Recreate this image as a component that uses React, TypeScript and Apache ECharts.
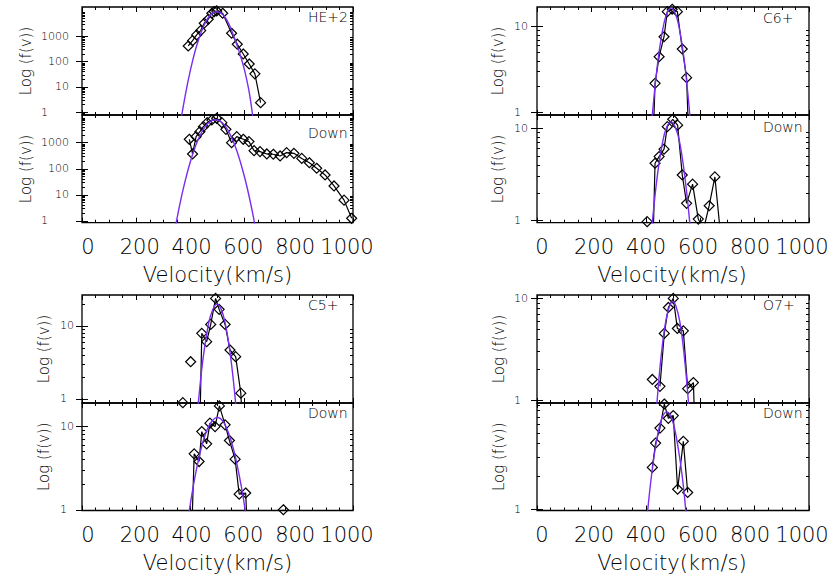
import React, { useEffect, useRef } from "react";
import * as echarts from "echarts";

// ---- tick labels ----
const X_TICKS = [0, 200, 400, 600, 800, 1000];
const Y_MAJOR_HE = [1, 10, 100, 1000];
const Y_MAJOR_ION = [1, 10];
const Y_MINOR = [2, 3, 4, 5, 6, 7, 8, 9, 20, 30, 40, 50, 60, 70, 80, 90, 200, 300, 400, 500, 600, 700, 800, 900, 2000, 3000, 4000, 5000, 6000, 7000, 8000, 9000];
const Y_MINOR_BELOW1 = [0.8, 0.9];

// ---- HE+2 (upstream) ----
const HE_UP_V = [392, 408, 423, 438, 451, 466, 479, 488, 497, 519, 552, 573, 595, 617, 638, 659];
const HE_UP_F = [417, 676, 1140, 1690, 3300, 4750, 8200, 9500, 10100, 8200, 1330, 490, 201, 81, 33, 2.4];
const HE_UP_FIT_V = [360, 380, 400, 420, 440, 460, 480, 497, 520, 540, 560, 580, 600, 620, 640];
const HE_UP_FIT_F = [0.23, 4.1, 46, 330, 1500, 4400, 8100, 9500, 7100, 3400, 1000, 250, 45, 4, 0.09];

// ---- HE+2 (down) ----
const HE_DN_V = [396, 408, 421, 435, 448, 462, 479, 497, 516, 531, 552, 571, 595, 616, 635, 657, 682, 706, 731, 755, 782, 811, 839, 866, 897, 930, 967, 995];
const HE_DN_F = [1350, 370, 1700, 2650, 4100, 5850, 7400, 8600, 5850, 3250, 1000, 1700, 1350, 1100, 495, 455, 370, 360, 310, 415, 390, 250, 170, 105, 58, 22, 6.3, 1.27];
const HE_DN_FIT_V = [340, 360, 380, 400, 420, 440, 460, 480, 492, 510, 530, 550, 570, 590, 610, 630, 650];
const HE_DN_FIT_F = [0.32, 3.9, 32, 190, 790, 2340, 4900, 7100, 7600, 6600, 4100, 1740, 540, 115, 18, 1.9, 0.14];

// ---- C6+ ----
const C6_UP_V = [420, 434, 449, 467, 479, 497, 516, 534, 550, 565];
const C6_UP_F = [0.1, 2.18, 4.46, 7.64, 15.0, 16.0, 15.0, 5.49, 2.54, 0.1];
const C6_UP_FIT_V = [415, 430, 445, 460, 475, 493, 510, 525, 540, 555, 570];
const C6_UP_FIT_F = [0.42, 1.5, 4.1, 8.5, 13.6, 16.6, 13.9, 8.9, 4.4, 1.6, 0.46];

const C6_DN_V = [405, 420, 434, 449, 467, 479, 499, 517, 534, 550, 572, 593, 612, 633, 654, 675];
const C6_DN_F = [0.975, 0.1, 4.18, 4.93, 5.93, 10.4, 12.5, 10.8, 3.12, 1.54, 2.48, 1.04, 0.8, 1.45, 2.97, 0.7];
const C6_DN_FIT_V = [415, 430, 445, 460, 475, 493, 510, 525, 540, 555, 570];
const C6_DN_FIT_F = [0.48, 1.45, 3.5, 6.6, 10, 11.7, 10, 6.9, 3.6, 1.5, 0.51];

// ---- C5+ ----
const C5_UP_V = [372, 386, 401, 412, 428, 442, 460, 475, 493, 506, 528, 546, 567, 586, 605];
const C5_UP_F = [0.89, null, 3.24, null, 0.02, 7.94, 6.1, 10.5, 23.9, 16.9, 10.5, 4.69, 3.8, 1.2, 0.05];
const C5_UP_FIT_V = [415, 430, 445, 460, 475, 498, 515, 530, 545, 560, 575];
const C5_UP_FIT_F = [0.22, 0.95, 3.2, 7.7, 14, 20, 16.5, 10.2, 4.7, 1.6, 0.41];

const C5_DN_V = [395, 414, 432, 442, 460, 472, 491, 507, 528, 544, 565, 580, 604, 625, 743];
const C5_DN_F = [0.05, 4.7, 3.8, 8.7, 6.2, 11, 10, 17.7, 10.5, 6.8, 4.06, 1.54, 1.59, 0.05, 1.0];
const C5_DN_FIT_V = [390, 405, 420, 440, 460, 480, 500, 520, 540, 560, 580, 595, 610];
const C5_DN_FIT_F = [0.72, 1.5, 2.8, 5.5, 8.9, 11.7, 12.9, 11.6, 8.5, 5.2, 2.6, 1.4, 0.65];

// ---- O7+ ----
const O7_UP_V = [424, 438, 452, 468, 483, 501, 516, 538, 554, 575, 592];
const O7_UP_F = [1.6, null, 1.37, 4.53, 8.15, 10, 5.07, 4.8, 1.3, 1.49, 0.05];
const O7_UP_FIT_V = [430, 445, 460, 475, 490, 499, 510, 525, 540, 555, 570];
const O7_UP_FIT_F = [0.36, 1.28, 3.3, 6.3, 8.8, 9.3, 8.5, 5.9, 2.95, 1.1, 0.3];

const O7_DN_V = [424, 436, 452, 468, 483, 501, 517, 538, 554];
const O7_DN_F = [2.41, 4.03, 5.53, 9.2, 6.8, 7.2, 1.52, 4.18, 1.42];
const O7_DN_FIT_V = [400, 415, 430, 445, 460, 477, 490, 505, 520, 535, 550];
const O7_DN_FIT_F = [0.63, 1.52, 3.0, 5.0, 6.9, 7.8, 7.3, 5.6, 3.5, 1.9, 0.81];

// ---- y ranges ----
const Y_MIN = [0.78, 0.86, 0.93, 0.95, 0.88, 0.98, 0.94, 0.97];
const Y_MAX = [14500, 11500, 17.0, 13.9, 26.6, 19.2, 10.8, 9.4];

const SPECIES = ["HE+2", "C6+", "C5+", "O7+"];

const SUBS = [
  { v: HE_UP_V, f: HE_UP_F, fv: HE_UP_FIT_V, ff: HE_UP_FIT_F },
  { v: HE_DN_V, f: HE_DN_F, fv: HE_DN_FIT_V, ff: HE_DN_FIT_F },
  { v: C6_UP_V, f: C6_UP_F, fv: C6_UP_FIT_V, ff: C6_UP_FIT_F },
  { v: C6_DN_V, f: C6_DN_F, fv: C6_DN_FIT_V, ff: C6_DN_FIT_F },
  { v: C5_UP_V, f: C5_UP_F, fv: C5_UP_FIT_V, ff: C5_UP_FIT_F },
  { v: C5_DN_V, f: C5_DN_F, fv: C5_DN_FIT_V, ff: C5_DN_FIT_F },
  { v: O7_UP_V, f: O7_UP_F, fv: O7_UP_FIT_V, ff: O7_UP_FIT_F },
  { v: O7_DN_V, f: O7_DN_F, fv: O7_DN_FIT_V, ff: O7_DN_FIT_F },
];

// layout (pixels)
const COLS = [
  { left: 82, width: 271, labLeft: 88, labWidth: 259, textX: 308 },
  { left: 537, width: 272, labLeft: 542, labWidth: 260, textX: 763 },
];
const ROWS = [
  { top: 7, h1: 108, h2: 107.7 },
  { top: 295, h1: 108, h2: 107.5 },
];
const TXT_Y = [
  [17, 133],
  [18, 127],
  [305, 413],
  [305, 413],
];
const NAME_GAP = [49, 32, 31, 31];
const LABEL_MARGIN = [13, 9, 8, 9];
const PAD1 = [3, 1, 1, 1];

const FONT = "DejaVu Sans";
const FW = 200;
const TXT = "#000";
const FIT_COLOR = "#7a2cf0";

function zip(a: number[], b: (number | null)[]) {
  return a.map((x, i) => [x, b[i] == null ? "-" : b[i]]);
}

function buildOption() {
  const grid: any[] = [];
  const xAxis: any[] = [];
  const yAxis: any[] = [];
  const series: any[] = [];
  const graphic: any[] = [];

  for (let p = 0; p < 4; p++) {
    const col = COLS[p % 2];
    const row = ROWS[Math.floor(p / 2)];
    const major = p === 0 ? Y_MAJOR_HE : Y_MAJOR_ION;
    for (let s = 0; s < 2; s++) {
      const idx = p * 2 + s;
      const top = s === 0 ? row.top : row.top + row.h1;
      const height = s === 0 ? row.h1 : row.h2;
      const ymin = Y_MIN[idx];
      const ymax = Y_MAX[idx];
      grid.push({
        left: col.left,
        top,
        width: col.width,
        height,
        show: true,
        borderColor: "#000",
        borderWidth: 1.3,
        backgroundColor: "transparent",
        containLabel: false,
        outerBoundsMode: "none",
      });
      const gi = grid.length - 1;
      const xa = xAxis.length;
      for (const pos of ["bottom", "top"]) {
        xAxis.push({
          gridIndex: gi,
          type: "value",
          position: pos,
          min: 0,
          max: 1000,
          interval: 200,
          axisLine: { show: false },
          axisTick: { show: true, inside: true, length: 5, lineStyle: { color: "#000", width: 1 } },
          minorTick: { show: true, splitNumber: 4, length: 3, lineStyle: { color: "#000", width: 1 } },
          axisLabel: { show: false },
          splitLine: { show: false },
        });
      }
      const ya = yAxis.length;
      const pad = "\u2007".repeat(PAD1[p]);
      const majorIn = major.filter((m) => m >= ymin && m <= ymax);
      const minorIn = Y_MINOR.concat(Y_MINOR_BELOW1).filter((m) => m > ymin && m < ymax);
      for (const pos of ["left", "right"]) {
        const isLeft = pos === "left";
        yAxis.push({
          gridIndex: gi,
          type: "log",
          logBase: 10,
          position: pos,
          min: ymin,
          max: ymax,
          axisLine: { show: false },
          axisTick: {
            show: true,
            inside: true,
            length: 6,
            customValues: majorIn,
            lineStyle: { color: "#000", width: 1 },
          },
          splitLine: { show: false },
          axisLabel: {
            show: isLeft,
            customValues: majorIn,
            margin: LABEL_MARGIN[p],
            fontFamily: FONT,
            fontWeight: FW,
            fontSize: 11,
            color: TXT,
            formatter: (val: number) => {
              const n = Math.round(val);
              return n === 1 ? "1" + pad : String(n);
            },
          },
          name: isLeft ? "Log (f(v))" : "",
          nameLocation: "middle",
          nameGap: NAME_GAP[p],
          nameTextStyle: { fontFamily: FONT, fontWeight: FW, fontSize: 15, color: TXT },
        });
      }
      // minor tick axes (left & right)
      for (const pos of ["left", "right"]) {
        yAxis.push({
          gridIndex: gi,
          type: "log",
          logBase: 10,
          position: pos,
          min: ymin,
          max: ymax,
          axisLine: { show: false },
          axisTick: {
            show: true,
            inside: true,
            length: 3,
            customValues: minorIn,
            lineStyle: { color: "#000", width: 1 },
          },
          axisLabel: { show: false },
          splitLine: { show: false },
        });
      }
      const d = SUBS[idx];
      series.push({
        type: "line",
        xAxisIndex: xa,
        yAxisIndex: ya,
        data: zip(d.v, d.f),
        symbol: "diamond",
        symbolSize: 10,
        connectNulls: false,
        clip: true,
        lineStyle: { color: "#000", width: 1.2 },
        itemStyle: { color: "rgba(255,255,255,0)", borderColor: "#000", borderWidth: 1.2 },
        z: 2,
      });
      series.push({
        type: "line",
        xAxisIndex: xa,
        yAxisIndex: ya,
        data: zip(d.fv, d.ff),
        symbol: "none",
        smooth: 0.4,
        clip: true,
        lineStyle: { color: FIT_COLOR, width: 1.4 },
        z: 3,
      });
      graphic.push({
        type: "text",
        x: col.textX,
        y: TXT_Y[p][s],
        style: {
          text: s === 0 ? SPECIES[p] : "Down",
          fill: TXT,
          font: `${FW} 14px "${FONT}"`,
          verticalAlign: "middle",
          align: "left",
        },
        z: 10,
      });
    }
  }

  // velocity label axes under each panel
  for (let p = 0; p < 4; p++) {
    const col = COLS[p % 2];
    const row = ROWS[Math.floor(p / 2)];
    const bottom = row.top + row.h1 + row.h2;
    grid.push({
      left: col.labLeft,
      width: col.labWidth,
      top: bottom - 10,
      height: 10,
      show: false,
      containLabel: false,
      outerBoundsMode: "none",
    });
    const gi = grid.length - 1;
    xAxis.push({
      gridIndex: gi,
      type: "value",
      min: X_TICKS[0],
      max: X_TICKS[X_TICKS.length - 1],
      interval: X_TICKS[1] - X_TICKS[0],
      axisLine: { show: false },
      axisTick: { show: false },
      splitLine: { show: false },
      axisLabel: {
        show: true,
        margin: 14,
        fontFamily: FONT,
        fontWeight: FW,
        fontSize: 21,
        color: TXT,
        formatter: (v: number) => String(v),
      },
      name: "Velocity(km/s)",
      nameLocation: "middle",
      nameGap: 42,
      nameTextStyle: { fontFamily: FONT, fontWeight: FW, fontSize: 21, color: TXT },
    });
    yAxis.push({ gridIndex: gi, type: "value", show: false });
  }

  return {
    animation: false,
    backgroundColor: "#fff",
    grid,
    xAxis,
    yAxis,
    series,
    graphic,
  };
}

export default function App() {
  const ref = useRef<HTMLDivElement>(null);
  useEffect(() => {
    if (!ref.current) return;
    const chart = echarts.init(ref.current, undefined, { renderer: "svg" });
    chart.setOption(buildOption() as any);
    return () => chart.dispose();
  }, []);
  return (
    <div
      ref={ref}
      style={{ position: "absolute", left: 0, top: 0, width: 833, height: 580, background: "#fff" }}
    />
  );
}
